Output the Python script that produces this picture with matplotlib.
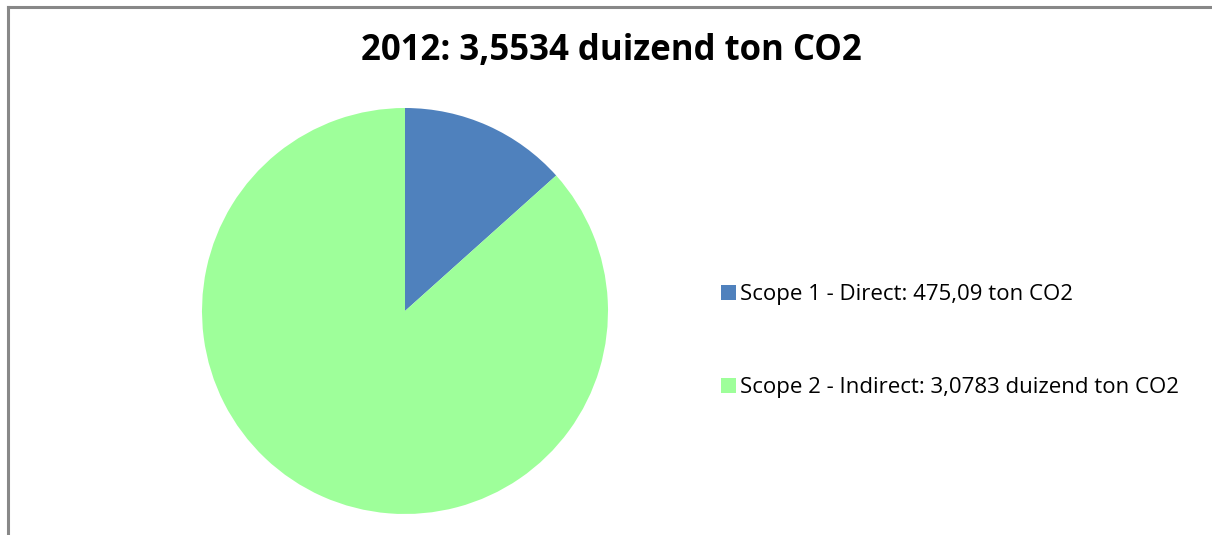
import matplotlib
matplotlib.use('Agg')
from matplotlib import pyplot as plt
from matplotlib.lines import Line2D

# data
labels = ['Scope 1 - Direct: 475,09 ton CO2',
          'Scope 2 - Indirect: 3,0783 duizend ton CO2']
values = [475.09, 3078.3]
colors = ['#4F81BD', '#9EFF9A']
title = '2012: 3,5534 duizend ton CO2'

plt.rcParams['font.family'] = ['Open Sans', 'DejaVu Sans']

W, H = 1212, 535
fig = plt.figure(figsize=(W / 100, H / 100), dpi=100)

# chart frame (only top and left edges visible)
fig.add_artist(Line2D([8 / W, 8 / W], [0, 1 - 7 / H], transform=fig.transFigure,
                      color='#888888', lw=2.2))
fig.add_artist(Line2D([8 / W, 1], [1 - 7 / H, 1 - 7 / H], transform=fig.transFigure,
                      color='#888888', lw=2.2))

# pie axes: center (405, 311), radius 203 px
r = 203
cx, cy = 405, 311
ax = fig.add_axes([(cx - r) / W, (H - cy - r) / H, 2 * r / W, 2 * r / H])
wedges, _ = ax.pie(values, colors=colors, startangle=90, counterclock=False,
                   radius=1.0, wedgeprops=dict(linewidth=0))
ax.set_xlim(-1, 1)
ax.set_ylim(-1, 1)
ax.set_aspect('equal')
ax.axis('off')

fig.text(611 / W, 1 - 51 / H, title, ha='center', va='center',
         fontsize=25, fontweight='bold', color='#000000')

fig.legend(wedges, labels, loc='upper left', bbox_to_anchor=(710 / W, 1 - 273 / H),
           frameon=False, fontsize=16, handlelength=0.65, handleheight=0.65,
           handletextpad=0.22, labelspacing=3.25, borderpad=0)

fig.savefig('out.png', dpi=100, facecolor='white')
